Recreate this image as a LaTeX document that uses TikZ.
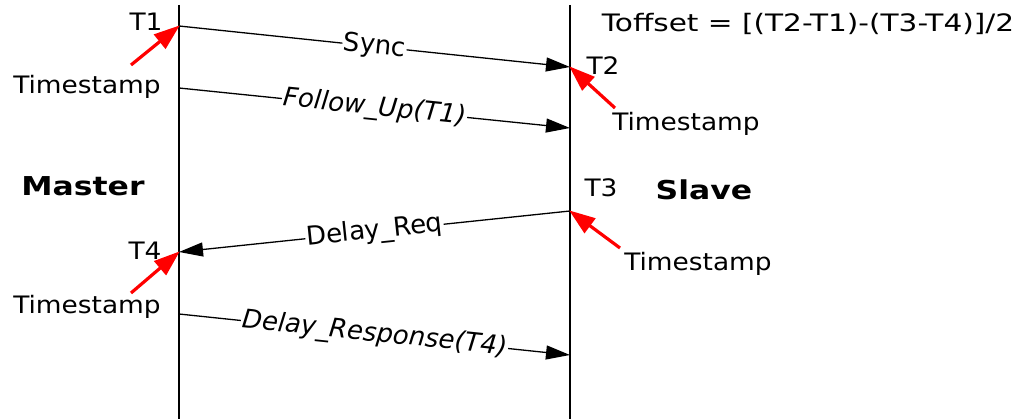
\documentclass[tikz,border=0pt]{standalone}
\usepackage{fontspec}
\setmainfont{DejaVu Sans}
\usetikzlibrary{arrows.meta}
\begin{document}
\begin{tikzpicture}[x=1pt,y=-1pt,
  txt/.style={font=\fontsize{24}{26}\selectfont, inner sep=0pt, xscale=1.1},
  big/.style={font=\fontsize{26}{28}\selectfont\bfseries, inner sep=0pt, xscale=1.21},
  msg/.style={line width=1.3pt, -{Triangle[length=24pt,width=14pt]}},
  lbl/.style={midway, sloped, fill=white, inner sep=1pt, font=\fontsize{26}{28}\selectfont},
  stamp/.style={red, line width=3.2pt, -{Triangle[length=26pt,width=18pt]}, shorten >=-1pt},
  life/.style={line width=1.3pt}]
\useasboundingbox (0,0) rectangle (1021,419);
% lifelines
\coordinate (mtop) at (179,5);
\coordinate (mbot) at (179,419);
\coordinate (stop) at (570,5);
\coordinate (sbot) at (570,419);
\draw[life] (mtop) -- (mbot);
\draw[life] (stop) -- (sbot);
% message points
\coordinate (m1) at (179,26);
\coordinate (s1) at (570,67);
\coordinate (m2) at (179,88);
\coordinate (s2) at (570,128);
\coordinate (s3) at (570,211);
\coordinate (m3) at (179,252);
\coordinate (m4) at (179,314);
\coordinate (s4) at (570,355);
\draw[msg] (m1) -- node[lbl] {Sync} (s1);
\draw[msg] (m2) -- node[lbl] {\itshape Follow\_Up(T1)} (s2);
\draw[msg] (s3) -- node[lbl] {Delay\_Req} (m3);
\draw[msg] (m4) -- node[lbl] {\itshape Delay\_Response(T4)} (s4);
% labels
\node[txt] (t1) at (146,22) {T1};
\node[txt] (t2) at (603,66) {T2};
\node[txt] (t3) at (601,188) {T3};
\node[txt] (t4) at (145,251) {T4};
\node[big] (master) at (83,186) {Master};
\node[big] (slave) at (704,190) {Slave};
\node[txt, xscale=1.12] (formula) at (808,24) {Toffset = [(T2-T1)-(T3-T4)]/2};
\node[txt] (ts1) at (87,87) {Timestamp};
\node[txt] (ts2) at (686,124) {Timestamp};
\node[txt] (ts3) at (698,264) {Timestamp};
\node[txt] (ts4) at (87,307) {Timestamp};
% red arrows
\coordinate (r1) at (131,65);
\coordinate (r2) at (615,108);
\coordinate (r3) at (620,248);
\coordinate (r4) at (131,293);
\draw[stamp] (r1) -- (m1);
\draw[stamp] (r2) -- (s1);
\draw[stamp] (r3) -- (s3);
\draw[stamp] (r4) -- (m3);
\end{tikzpicture}
\end{document}
